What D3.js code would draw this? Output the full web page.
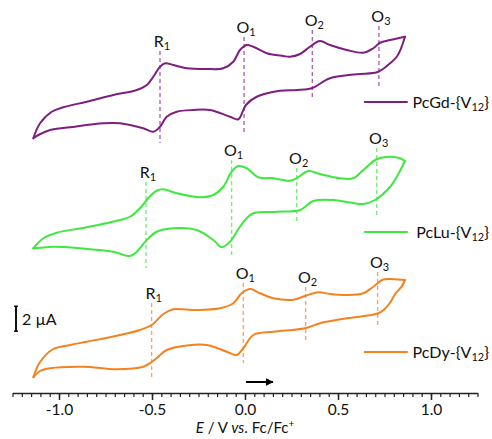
<!DOCTYPE html>
<html>
<head>
<meta charset="utf-8">
<script src="https://cdn.jsdelivr.net/npm/d3@7"></script>
<style>
  html, body { margin: 0; padding: 0; background: #fff; }
  svg { display: block; font-family: Lato, "Open Sans", sans-serif; }
</style>
</head>
<body>
<svg id="chart" width="492" height="439"></svg>
<script>
// ---------- DATA (E in V vs Fc/Fc+, I in µA relative to each trace's offset) ----------
const traceNames = ["PcGd-{V", "PcLu-{V", "PcDy-{V"];
const traceColors = ["#7e1f80", "#3fe83f", "#f5821f"];
const dashColors = ["#b263b4", "#7aec7a", "#f6a467"];
const traceOffsets = [23.6, 13.2, 3.6];

const gdForward = [[-1.138,-3.06],[-1.102,-1.86],[-1.039,-0.94],[-0.977,-0.58],[-0.851,-0.14],[-0.708,0.40],[-0.582,0.80],[-0.528,1.20],[-0.493,1.86],[-0.457,2.66],[-0.430,2.94],[-0.385,2.80],[-0.313,2.54],[-0.206,2.48],[-0.117,2.54],[-0.063,3.06],[-0.027,4.00],[0.009,4.40],[0.045,4.26],[0.117,3.74],[0.206,3.52],[0.242,3.46],[0.296,3.68],[0.349,4.26],[0.403,4.72],[0.457,4.40],[0.547,4.00],[0.636,3.78],[0.690,4.14],[0.726,4.58],[0.780,4.80],[0.860,5.06]];
const gdReverse = [[0.860,5.06],[0.838,4.10],[0.816,3.46],[0.780,2.94],[0.717,2.26],[0.601,2.06],[0.457,1.74],[0.359,0.94],[0.278,0.80],[0.188,0.74],[0.063,0.26],[0.005,-0.40],[-0.009,-0.80],[-0.036,-1.54],[-0.081,-1.34],[-0.188,-0.80],[-0.278,-0.80],[-0.367,-0.94],[-0.421,-1.34],[-0.457,-2.14],[-0.493,-2.54],[-0.547,-2.26],[-0.672,-1.86],[-0.762,-1.86],[-0.941,-2.18],[-1.048,-2.40],[-1.111,-2.80],[-1.138,-3.06]];

const luForward = [[-1.138,-1.46],[-1.084,-0.66],[-1.012,-0.22],[-0.851,0.22],[-0.672,0.80],[-0.618,1.06],[-0.565,1.74],[-0.520,2.54],[-0.475,3.14],[-0.439,3.26],[-0.367,2.94],[-0.242,2.62],[-0.170,2.80],[-0.117,3.46],[-0.072,4.66],[-0.036,5.12],[0.009,4.94],[0.072,4.22],[0.152,4.14],[0.242,3.94],[0.278,4.14],[0.340,4.72],[0.403,4.48],[0.511,4.14],[0.582,4.14],[0.636,4.80],[0.708,5.66],[0.780,5.86],[0.833,5.74],[0.860,5.52]];
const luReverse = [[0.860,5.52],[0.825,4.50],[0.780,3.46],[0.699,2.40],[0.636,2.08],[0.565,2.20],[0.475,2.40],[0.367,2.32],[0.296,1.60],[0.170,1.46],[0.045,1.34],[0.009,0.94],[-0.027,0.26],[-0.081,-0.94],[-0.125,-1.38],[-0.170,-0.80],[-0.260,0.00],[-0.385,0.14],[-0.475,-0.14],[-0.528,-0.80],[-0.582,-1.74],[-0.618,-2.08],[-0.708,-1.74],[-0.887,-1.46],[-1.031,-1.34],[-1.102,-1.42],[-1.138,-1.46]];

const dyForward = [[-1.138,-2.18],[-1.102,-0.96],[-1.031,0.08],[-0.941,0.40],[-0.851,0.66],[-0.672,1.20],[-0.565,1.60],[-0.502,2.00],[-0.439,2.88],[-0.385,3.26],[-0.260,3.20],[-0.134,3.34],[-0.063,3.74],[-0.018,4.54],[0.027,4.88],[0.081,4.54],[0.152,4.14],[0.260,4.02],[0.323,4.32],[0.394,4.62],[0.457,4.48],[0.547,4.40],[0.636,4.54],[0.690,5.06],[0.744,5.64],[0.797,5.66],[0.860,5.60]];
const dyReverse = [[0.860,5.60],[0.842,5.07],[0.810,4.54],[0.778,3.74],[0.752,3.30],[0.717,2.94],[0.547,2.54],[0.403,2.14],[0.323,1.74],[0.152,1.46],[0.045,1.20],[-0.009,0.14],[-0.045,-0.40],[-0.098,-0.14],[-0.206,0.40],[-0.313,0.36],[-0.421,0.00],[-0.475,-0.66],[-0.502,-0.96],[-0.547,-1.34],[-0.690,-1.54],[-0.869,-1.34],[-1.048,-1.46],[-1.102,-1.68],[-1.138,-2.18]];

// Redox markers: [letter, index, E, I top, I bottom]
const gdMarkers = [["R","1",-0.457,3.92,-3.44],["O","1",-0.005,5.04,-2.64],["O","2",0.362,5.60,0.16],["O","3",0.720,5.92,1.04]];
const luMarkers = [["R","1",-0.532,3.84,-3.04],["O","1",-0.072,5.60,-2.08],["O","2",0.278,4.96,0.56],["O","3",0.708,6.56,1.20]];
const dyMarkers = [["R","1",-0.502,3.76,-2.24],["O","1",-0.009,5.36,-1.04],["O","2",0.326,5.04,0.80],["O","3",0.713,6.24,1.76]];

const majorTicks = [-1.0, -0.5, 0.0, 0.5, 1.0];
const xDomain = [-1.25, 1.25];
const scaleBarValue = 2;      // µA
const scaleBarBase = 5.1;     // µA on the stacked scale
const arrowRange = [0.005, 0.15];

// ---------- DRAW ----------
const FS = 16;
const svg = d3.select("#chart");
const x = d3.scaleLinear().domain(xDomain).range([12.5, 477.5]);
const y = d3.scaleLinear().domain([0, 31.6]).range([395, 0]);

const traces = [
  {fwd: gdForward, rev: gdReverse, markers: gdMarkers},
  {fwd: luForward, rev: luReverse, markers: luMarkers},
  {fwd: dyForward, rev: dyReverse, markers: dyMarkers}
];

traces.forEach((t, i) => {
  const off = traceOffsets[i];
  const g = svg.append("g");
  t.markers.forEach(m => {
    g.append("line")
      .attr("x1", x(m[2])).attr("x2", x(m[2]))
      .attr("y1", y(off + m[3])).attr("y2", y(off + m[4]))
      .attr("stroke", dashColors[i]).attr("stroke-width", 1.4)
      .attr("stroke-dasharray", "4,3");
    const tx = g.append("text")
      .attr("x", x(m[2]) + 2).attr("y", y(off + m[3]) - 4)
      .attr("text-anchor", "middle")
      .attr("font-size", FS).attr("fill", "#111");
    tx.append("tspan").text(m[0]);
    tx.append("tspan").attr("font-size", 11).attr("dy", 3).text(m[1]);
  });
  const line = d3.line()
    .x(d => x(d[0])).y(d => y(off + d[1]))
    .curve(d3.curveCatmullRom.alpha(0.5));
  [t.fwd, t.rev].forEach(br => {
    g.append("path").attr("d", line(br))
      .attr("fill", "none").attr("stroke", traceColors[i])
      .attr("stroke-width", 2).attr("stroke-linejoin", "round").attr("stroke-linecap", "round");
  });
  const ly = y(off);
  g.append("line").attr("x1", x(0.64)).attr("x2", x(0.875))
    .attr("y1", ly + 2).attr("y2", ly + 2)
    .attr("stroke", traceColors[i]).attr("stroke-width", 2);
  const lt = g.append("text").attr("x", 489).attr("y", ly + 8)
    .attr("text-anchor", "end").attr("font-size", FS).attr("fill", "#111");
  lt.append("tspan").text(traceNames[i]);
  lt.append("tspan").attr("font-size", 11).attr("dy", 3).text("12");
  lt.append("tspan").attr("dy", -3).text("}");
});

// x axis
const axisY = 393;
const minor = d3.range(-1.25, 1.2501, 0.05).map(v => Math.round(v * 100) / 100);
svg.append("g").attr("transform", `translate(0,${axisY})`)
  .call(d3.axisBottom(x).tickValues(minor).tickSize(4).tickSizeOuter(0).tickFormat(""))
  .call(g => g.selectAll("text").remove())
  .call(g => g.selectAll("line").attr("stroke", "#222").attr("stroke-width", 1.2))
  .call(g => g.select(".domain").attr("stroke", "#222").attr("stroke-width", 1.5));
svg.append("g").attr("transform", `translate(0,${axisY})`)
  .call(d3.axisBottom(x).tickValues(majorTicks).tickSize(7).tickSizeOuter(0).tickFormat(d => d.toFixed(1)))
  .call(g => g.select(".domain").remove())
  .call(g => g.selectAll("line").attr("stroke", "#222").attr("stroke-width", 1.5))
  .call(g => g.selectAll("text").attr("y", 22).attr("dy", 0)
    .attr("font-size", 15.5).attr("font-family", "Lato, 'Open Sans', sans-serif").attr("fill", "#111"));

// axis title
const title = svg.append("text").attr("x", x(0)).attr("y", 433)
  .attr("text-anchor", "middle").attr("font-size", 15).attr("fill", "#111");
title.append("tspan").attr("font-style", "italic").text("E");
title.append("tspan").text(" / V ");
title.append("tspan").attr("font-style", "italic").text("vs");
title.append("tspan").text(". Fc/Fc");
title.append("tspan").attr("font-size", 10).attr("dy", -6).text("+");

// scale bar
const sbx = 16;
svg.append("line").attr("x1", sbx).attr("x2", sbx)
  .attr("y1", y(scaleBarBase)).attr("y2", y(scaleBarBase + scaleBarValue))
  .attr("stroke", "#111").attr("stroke-width", 2);
[scaleBarBase, scaleBarBase + scaleBarValue].forEach(v => {
  svg.append("line").attr("x1", sbx - 2).attr("x2", sbx + 2)
    .attr("y1", y(v)).attr("y2", y(v)).attr("stroke", "#111").attr("stroke-width", 1.5);
});
svg.append("text").attr("x", 22).attr("y", y(scaleBarBase + scaleBarValue / 2) + 6)
  .attr("font-size", FS).attr("fill", "#111").text("2 µA");

// scan-direction arrow
svg.append("defs").append("marker").attr("id", "ah")
  .attr("viewBox", "0 0 10 10").attr("refX", 9).attr("refY", 5)
  .attr("markerWidth", 4).attr("markerHeight", 4).attr("orient", "auto")
  .append("path").attr("d", "M0,0 L10,5 L0,10 z").attr("fill", "#000");
svg.append("line").attr("x1", x(arrowRange[0])).attr("x2", x(arrowRange[1]))
  .attr("y1", 382).attr("y2", 382).attr("stroke", "#000").attr("stroke-width", 2)
  .attr("marker-end", "url(#ah)");
</script>
</body>
</html>
